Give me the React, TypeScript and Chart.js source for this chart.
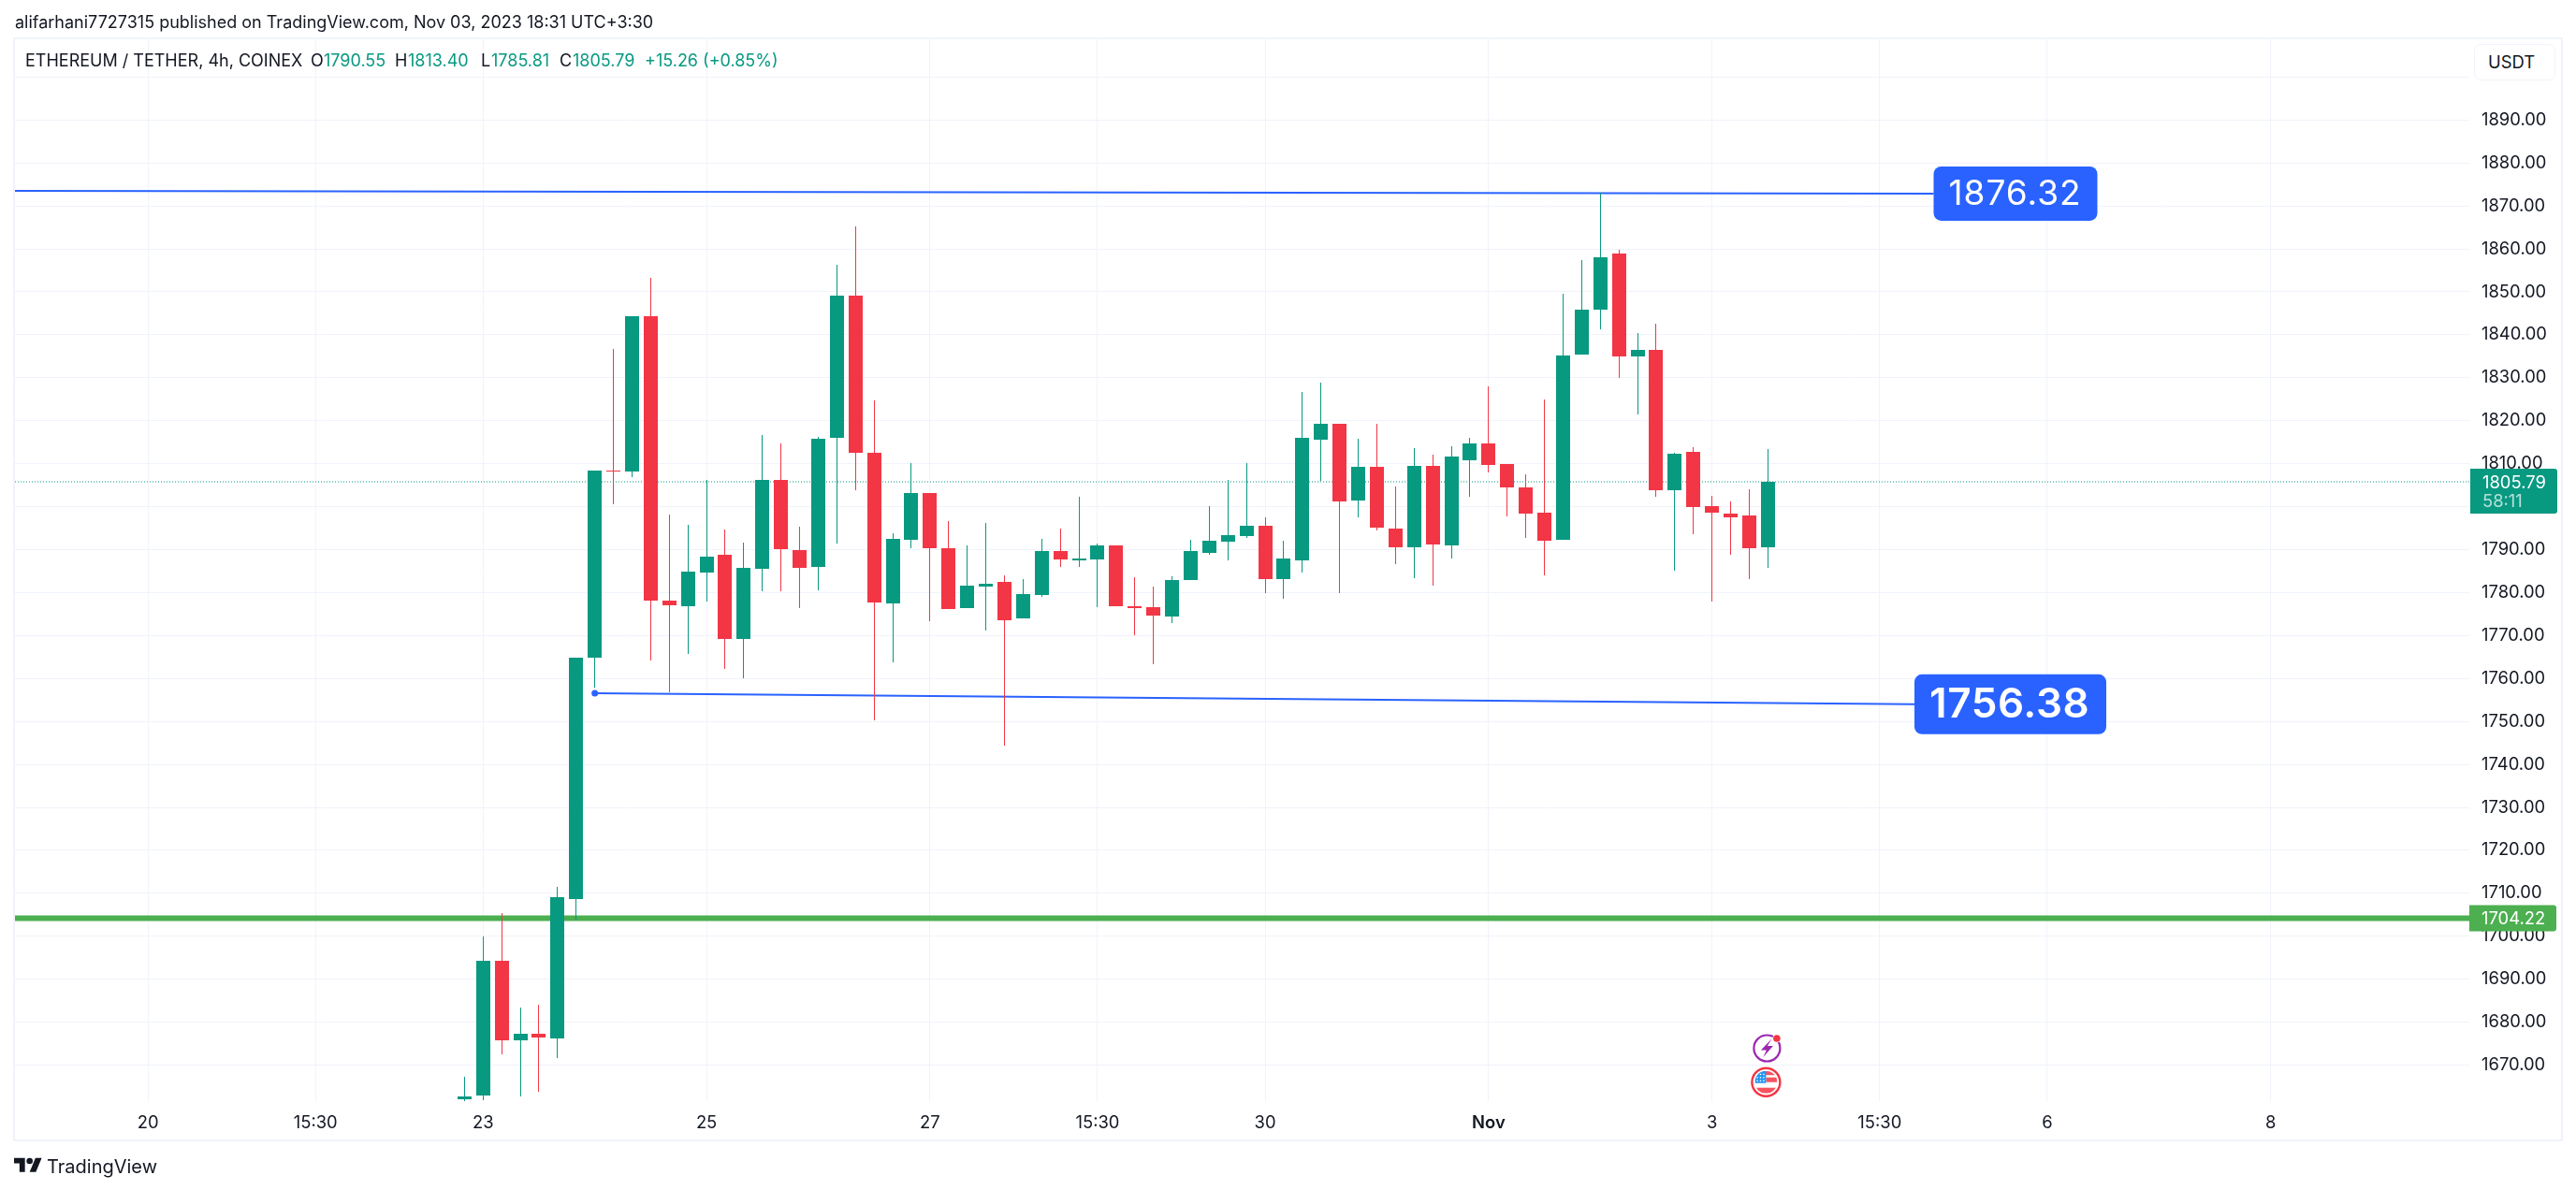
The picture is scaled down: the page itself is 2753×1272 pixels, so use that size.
import React, { useEffect, useRef } from "react";
import { Chart, registerables } from "chart.js";

Chart.register(...registerables);

// ---- data (4h candles) ----
const barIndex = [-1,0,1,2,3,4,5,6,7,8,9,10,11,12,13,14,15,16,17,18,19,20,21,22,23,24,25,26,27,28,29,30,31,32,33,34,35,36,37,38,39,40,41,42,43,44,45,46,47,48,49,50,51,52,53,54,55,56,57,58,59,60,61,62,63,64,65,66,67,68,69];
const opens = [1662,1663,1694.4,1675.7,1677.4,1676.2,1708.6,1764.8,1808.3,1808.2,1844.25,1778.1,1776.8,1784.7,1788.75,1769.25,1785.6,1806.3,1790,1786,1816,1849.1,1812.5,1777.5,1792.3,1803.1,1790.25,1776.4,1781.4,1782.4,1774,1779.4,1789.6,1787.5,1787.8,1790.9,1776.9,1776.5,1774.4,1782.9,1789.2,1791.8,1793.1,1795.5,1783.1,1787.5,1815.55,1819.2,1801.4,1809.2,1795,1790.5,1809.4,1790.9,1810.7,1814.8,1810,1804.5,1798.6,1792.2,1835.5,1845.8,1859,1834.9,1836.5,1803.9,1812.8,1800.2,1798.4,1798,1790.55];
const highs = [1667.2,1700,1705.5,1683.3,1684.1,1711.4,1764.75,1799.2,1836.8,1844.25,1853.2,1798.1,1795.7,1806.25,1794.6,1791.6,1816.6,1814.7,1795.25,1816.2,1856.4,1865.2,1824.7,1793.9,1810.1,1803.1,1796.6,1790.9,1796.2,1784.1,1783.25,1792.6,1795,1802.4,1791.5,1790.9,1783.5,1781.3,1783.9,1792.2,1800.2,1806.3,1810.25,1797.6,1792,1826.8,1828.8,1819.2,1815.9,1819.2,1804.6,1813.7,1812,1814.1,1816.1,1828,1810,1807.6,1825,1849.6,1857.4,1873,1859.8,1840.5,1842.6,1812.6,1813.9,1802.6,1801.3,1804.1,1813.4];
const lows = [1661,1661.8,1672.5,1662.7,1663.7,1671.6,1703.8,1757.8,1800.6,1806.9,1764.2,1756.75,1765.75,1777.9,1762.25,1760.1,1780.3,1780.3,1776.4,1780.5,1791.4,1803.8,1750.25,1763.75,1790.3,1773.3,1776.1,1776.4,1771.2,1744.3,1774,1779,1785.9,1785.9,1776.6,1776.8,1770,1763.3,1772.9,1782.9,1788.8,1787.5,1792.7,1779.8,1778.5,1784.6,1806.1,1779.8,1797.5,1794.4,1786.6,1783.3,1781.6,1788,1802.4,1807.9,1797.8,1792.8,1784.1,1792.2,1835.5,1841.2,1830,1821.4,1802.4,1785.2,1793.5,1778,1788.9,1783.2,1785.81];
const closes = [1662.8,1694.2,1675.7,1677.4,1676.4,1709.2,1764.75,1808.3,1808.1,1844.25,1778.2,1777.1,1784.8,1788.3,1769.25,1785.7,1806.3,1790.1,1785.75,1815.75,1849.1,1812.6,1777.7,1792.4,1803.1,1790.3,1776.2,1781.6,1782,1773.5,1779.55,1789.6,1787.7,1788,1790.9,1776.8,1776.4,1774.6,1783,1789.6,1792,1793.3,1795.5,1783.1,1788,1816.1,1819.2,1801.2,1809.2,1795.1,1790.5,1809.4,1791.2,1811.7,1814.8,1809.8,1804.4,1798.3,1792,1835.2,1845.9,1858.1,1834.9,1836.5,1803.9,1812.4,1800,1798.7,1797.6,1790.4,1805.79];

const timeTickBars = [-18,-9,0,12,24,33,42,54,66,75,84,96];
const timeTickLabels = ["20","15:30","23","25","27","15:30","30","Nov","3","15:30","6","8"];
const priceTicks = [1670,1680,1690,1700,1710,1720,1730,1740,1750,1760,1770,1780,1790,1800,1810,1820,1830,1840,1850,1860,1870,1880,1890,1900];

const lastClose = 1805.79;
const countdown = "58:11";
const supportLevel = 1704.22;
const supportLabel = "1704.22";
const upperTrendBars = [-25.14, 77.9];
const upperTrendPrices = [1873.5, 1872.87];
const upperTrendLabel = "1876.32";
const lowerTrendBars = [6, 76.87];
const lowerTrendPrices = [1756.6, 1754.0];
const lowerTrendLabel = "1756.38";

const xRange = [-25.14, 106.67];
const yRange = [1661.63, 1908.79];

const UP = "#089981";
const DOWN = "#f23645";
const BLUE = "#2962ff";
const GREEN = "#4caf50";
const GRID = "#f0f3fa";
const INK = "#131722";
const FONT = "Inter, sans-serif";
const AXIS_SIZE = 18.4;

const roundBox = (ctx: any, x: number, y: number, w: number, h: number, r: any, fill: string) => {
  ctx.beginPath();
  ctx.roundRect(x, y, w, h, r);
  ctx.fillStyle = fill;
  ctx.fill();
};

const snapPlugin = {
  id: "snap",
  beforeDatasetsDraw(chart: any) {
    chart.getSortedVisibleDatasetMetas().forEach((meta: any) => {
      if (meta.type !== "bar") return;
      meta.data.forEach((el: any) => {
        el.x = Math.floor(el.x) + 0.5;
        const top = Math.round(Math.min(el.y, el.base));
        let bot = Math.round(Math.max(el.y, el.base));
        if (bot === top) bot = top + 1;
        el.y = top;
        el.base = bot;
        el.height = bot - top;
      });
    });
  },
};

const overlayPlugin = {
  id: "overlay",
  afterDraw(chart: any) {
    const { ctx, scales } = chart;
    const x = scales.x;
    const y = scales.y;
    ctx.save();
    ctx.textBaseline = "middle";
    ctx.textAlign = "left";

    // upper trend label
    {
      const px = x.getPixelForValue(upperTrendBars[1]);
      const py = y.getPixelForValue(upperTrendPrices[1]);
      roundBox(ctx, px, py - 29, 175, 58, 8, BLUE);
      ctx.fillStyle = "#ffffff";
      ctx.font = `400 37px ${FONT}`;
      ctx.letterSpacing = "1px";
      ctx.fillText(upperTrendLabel, px + 16, py + 1);
    }
    // lower trend label
    {
      const px = x.getPixelForValue(lowerTrendBars[1]);
      const py = y.getPixelForValue(lowerTrendPrices[1]);
      roundBox(ctx, px, py - 32, 205, 64, 8, BLUE);
      ctx.fillStyle = "#ffffff";
      ctx.font = `600 44px ${FONT}`;
      ctx.letterSpacing = "0.6px";
      ctx.fillText(lowerTrendLabel, px + 16, py + 1);
      ctx.letterSpacing = "0px";
    }
    // last price tag
    {
      const py = y.getPixelForValue(lastClose);
      const left = x.right + 1;
      roundBox(ctx, left, py - 14, 93, 48, [0, 3, 3, 0], UP);
      ctx.font = `400 ${AXIS_SIZE}px ${FONT}`;
      ctx.fillStyle = "#ffffff";
      ctx.fillText(String(lastClose), left + 13, py + 1);
      ctx.fillStyle = "rgba(255,255,255,0.7)";
      ctx.fillText(countdown, left + 13, py + 21);
    }
    // support tag
    {
      const py = y.getPixelForValue(supportLevel);
      const left = x.right;
      roundBox(ctx, left, py - 14, 93, 28, [0, 3, 3, 0], GREEN);
      ctx.font = `400 ${AXIS_SIZE}px ${FONT}`;
      ctx.fillStyle = "#ffffff";
      ctx.fillText(supportLabel, left + 13, py + 1);
    }
    // event markers under the last bars
    {
      const lx = x.getPixelForValue(68.95);
      const ly = 1120.5;
      ctx.strokeStyle = "#9c27b0";
      ctx.lineWidth = 2.2;
      ctx.beginPath();
      ctx.arc(lx, ly, 14, 0, Math.PI * 2);
      ctx.stroke();
      ctx.beginPath();
      ctx.moveTo(lx + 5, ly - 10);
      ctx.lineTo(lx - 6.5, ly + 2);
      ctx.lineTo(lx - 0.5, ly + 2);
      ctx.lineTo(lx - 4, ly + 9.5);
      ctx.lineTo(lx + 6.5, ly - 2.5);
      ctx.lineTo(lx + 0.5, ly - 2.5);
      ctx.closePath();
      ctx.fillStyle = "#9c27b0";
      ctx.fill();
      ctx.beginPath();
      ctx.arc(lx + 10.5, ly - 10.5, 4.6, 0, Math.PI * 2);
      ctx.fillStyle = "#ffffff";
      ctx.fill();
      ctx.beginPath();
      ctx.arc(lx + 10.5, ly - 10.5, 3.8, 0, Math.PI * 2);
      ctx.fillStyle = DOWN;
      ctx.fill();

      const fx = lx - 1;
      const fy = 1156.7;
      ctx.strokeStyle = DOWN;
      ctx.lineWidth = 2.4;
      ctx.beginPath();
      ctx.arc(fx, fy, 15, 0, Math.PI * 2);
      ctx.stroke();
      ctx.save();
      ctx.beginPath();
      ctx.arc(fx, fy, 12, 0, Math.PI * 2);
      ctx.clip();
      ctx.fillStyle = "#ffffff";
      ctx.fillRect(fx - 12, fy - 12, 24, 24);
      ctx.fillStyle = "#f7525f";
      ctx.fillRect(fx - 12, fy - 12, 24, 4.5);
      ctx.fillRect(fx, fy - 5, 12, 5);
      ctx.fillRect(fx - 12, fy + 6, 24, 6);
      ctx.fillStyle = "#2196f3";
      ctx.fillRect(fx - 12, fy - 12, 12, 13);
      ctx.fillStyle = "#ffffff";
      for (let r = 0; r < 3; r++) {
        for (let c = 0; c < 3; c++) {
          ctx.fillRect(fx - 10 + c * 3.4, fy - 9 + r * 3.4, 1.4, 1.4);
        }
      }
      ctx.restore();
    }
    ctx.restore();
  },
};

const Abs = ({ left, top, size = 17.4, color = INK, weight = 400, children }: any) => (
  <span
    style={{
      position: "absolute",
      left,
      top,
      fontFamily: FONT,
      fontSize: size,
      fontWeight: weight,
      color,
      lineHeight: "24px",
      whiteSpace: "nowrap",
    }}
  >
    {children}
  </span>
);

export default function App() {
  const ref = useRef<HTMLCanvasElement | null>(null);

  useEffect(() => {
    const canvas = ref.current;
    if (!canvas) return;
    const bodyColors = barIndex.map((_, i) => (closes[i] >= opens[i] ? UP : DOWN));
    const chart = new Chart(canvas, {
      type: "bar",
      data: {
        datasets: [
          {
            type: "bar",
            label: "Body",
            data: barIndex.map((b, i) => ({ x: b, y: [opens[i], closes[i]] })),
            backgroundColor: bodyColors,
            barThickness: 15,
            grouped: false,
            inflateAmount: 0,
            borderWidth: 0,
            order: 1,
          },
          {
            type: "bar",
            label: "Wick",
            data: barIndex.map((b, i) => ({ x: b, y: [lows[i], highs[i]] })),
            backgroundColor: bodyColors,
            barThickness: 1,
            grouped: false,
            inflateAmount: 0,
            borderWidth: 0,
            order: 2,
          },
          {
            type: "line",
            label: "Upper trend",
            data: upperTrendBars.map((b, i) => ({ x: b, y: upperTrendPrices[i] })),
            borderColor: BLUE,
            borderWidth: 2,
            pointRadius: 0,
            order: 3,
          },
          {
            type: "line",
            label: "Lower trend",
            data: lowerTrendBars.map((b, i) => ({ x: b, y: lowerTrendPrices[i] })),
            borderColor: BLUE,
            borderWidth: 2,
            pointRadius: [3.5, 0],
            pointBackgroundColor: BLUE,
            pointBorderWidth: 0,
            order: 3,
          },
          {
            type: "line",
            label: "Last price",
            data: xRange.map((b) => ({ x: b, y: lastClose })),
            borderColor: UP,
            borderWidth: 1,
            borderDash: [1, 2],
            pointRadius: 0,
            order: 4,
          },
          {
            type: "line",
            label: "Support",
            data: xRange.map((b) => ({ x: b, y: supportLevel })),
            borderColor: GREEN,
            borderWidth: 6,
            pointRadius: 0,
            order: 5,
          },
        ],
      } as any,
      options: {
        responsive: false,
        animation: false,
        devicePixelRatio: 1,
        layout: { padding: { left: 16, top: 42, right: 14, bottom: 52 } },
        plugins: { legend: { display: false }, tooltip: { enabled: false } },
        scales: {
          x: {
            type: "linear",
            offset: false,
            min: xRange[0],
            max: xRange[1],
            afterBuildTicks: (axis: any) => {
              axis.ticks = timeTickBars.map((v) => ({ value: v }));
            },
            afterFit: (axis: any) => {
              axis.height = 43;
            },
            grid: { color: GRID, lineWidth: 1, drawTicks: false, offset: false },
            border: { display: false },
            ticks: {
              autoSkip: false,
              maxRotation: 0,
              padding: 12,
              color: INK,
              font: (c: any) => ({
                family: "Inter",
                size: AXIS_SIZE,
                weight: timeTickLabels[c.index] === "Nov" ? 600 : 400,
              }),
              callback: (_v: any, i: number) => timeTickLabels[i],
            },
          },
          y: {
            type: "linear",
            position: "right",
            min: yRange[0],
            max: yRange[1],
            afterBuildTicks: (axis: any) => {
              axis.ticks = priceTicks.map((v) => ({ value: v }));
            },
            afterFit: (axis: any) => {
              axis.width = 100;
            },
            grid: { color: GRID, lineWidth: 1, drawTicks: false },
            border: { display: false },
            ticks: {
              autoSkip: false,
              padding: 13,
              color: INK,
              font: { family: "Inter", size: AXIS_SIZE },
              callback: (v: any) => (v === 1900 ? "" : Number(v).toFixed(2)),
            },
          },
        },
      } as any,
      plugins: [snapPlugin, overlayPlugin],
    });
    return () => chart.destroy();
  }, []);

  return (
    <div style={{ position: "absolute", left: 0, top: 0, width: 2753, height: 1272, overflow: "hidden", background: "#fff" }}>
      <div style={{ position: "absolute", left: 14, top: 40, width: 2721, height: 1176, border: `2px solid ${GRID}` }} />
      <canvas ref={ref} width={2753} height={1272} style={{ position: "absolute", left: 0, top: 0, width: 2753, height: 1272 }} />

      <Abs left={16} top={12} size={18}>alifarhani7727315 published on TradingView.com, Nov 03, 2023 18:31 UTC+3:30</Abs>

      <Abs left={27} top={53} size={18}>ETHEREUM / TETHER, 4h, COINEX</Abs>
      <Abs left={332} top={53} size={18}>O</Abs>
      <Abs left={346} top={53} size={18} color={UP}>1790.55</Abs>
      <Abs left={422} top={53} size={18}>H</Abs>
      <Abs left={436} top={53} size={18} color={UP}>1813.40</Abs>
      <Abs left={514} top={53} size={18}>L</Abs>
      <Abs left={525} top={53} size={18} color={UP}>1785.81</Abs>
      <Abs left={598} top={53} size={18}>C</Abs>
      <Abs left={612} top={53} size={18} color={UP}>1805.79</Abs>
      <Abs left={689} top={53} size={18} color={UP}>+15.26 (+0.85%)</Abs>

      <div
        style={{
          position: "absolute",
          left: 2644,
          top: 47,
          width: 85,
          height: 37,
          border: `1.5px solid ${GRID}`,
          borderRadius: 7,
          background: "#fff",
        }}
      />
      <Abs left={2659} top={54} size={18.4}>USDT</Abs>

      <svg style={{ position: "absolute", left: 15, top: 1234 }} width="30" height="24" viewBox="0 0 36 28">
        <path d="M14 22H7V11H0V4h14v18zM28 22h-8l7.5-18h8L28 22z" fill={INK} />
        <circle cx="20" cy="8" r="4" fill={INK} />
      </svg>
      <Abs left={50} top={1235} size={20} weight={400}>TradingView</Abs>
    </div>
  );
}
